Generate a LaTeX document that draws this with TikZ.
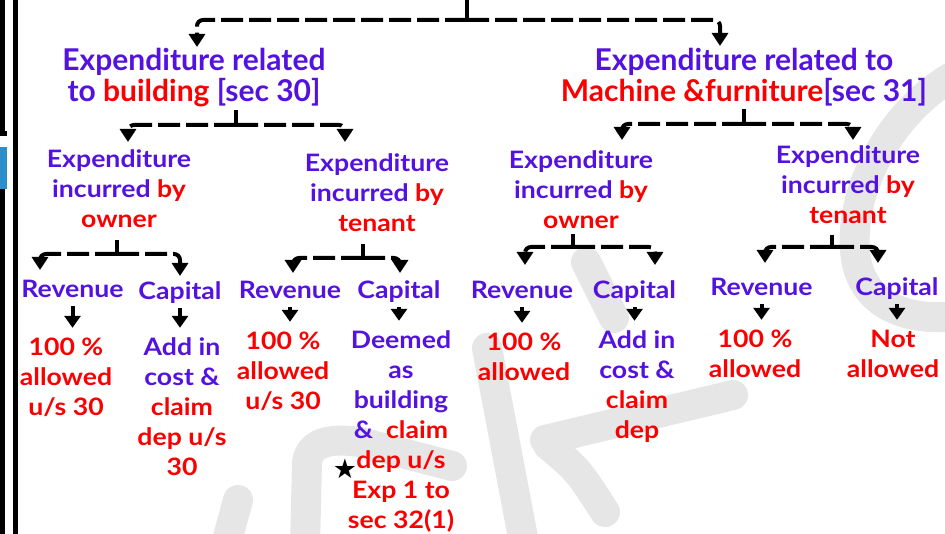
\documentclass[tikz,border=0pt]{standalone}
\usepackage{fontspec}
\setmainfont{Lato}
\newfontfamily\latow{Lato}[FakeStretch=1.11]
\newfontfamily\symfont{DejaVu Sans}
\usetikzlibrary{arrows.meta,calc}
\definecolor{tblue}{RGB}{84,18,224}
\definecolor{tred}{RGB}{250,0,0}
\definecolor{wmgray}{RGB}{230,230,230}
\definecolor{tabblue}{RGB}{42,143,203}
\newcommand{\rd}[1]{\textcolor{tred}{#1}}
\newcommand{\fl}{\rule{0pt}{0.8em}}
\begin{document}
\begin{tikzpicture}[x=1pt,y=-1pt,
 lvA/.style={font=\fontsize{30}{31}\selectfont\bfseries, align=center, inner sep=0pt, anchor=north, yshift=24pt, text=tblue},
 lvB/.style={font=\latow\fontsize{24}{30}\selectfont\bfseries, align=center, inner sep=0pt, anchor=north, yshift=19.2pt, text=tblue},
 lvR/.style={lvB, text=tred},
 stemline/.style={line width=4pt},
 branch/.style={line width=4pt, dash pattern=on 22pt off 6pt, rounded corners=6pt, -{Triangle[width=16pt,length=13pt]}},
 sarrow/.style={line width=4pt, -{Triangle[width=16pt,length=12pt]}},
 wmark/.style={draw=wmgray, line width=30pt, line cap=round, line join=round},
]
\useasboundingbox (0,0) rectangle (945,534);
% watermark
\begin{scope}
\clip (0,0) rectangle (945,534);
\draw[wmark] (225,548) -- (238,500);
\draw[wmark] (305,548) -- (307,462) .. controls (310,442) and (330,438) .. (360,442) -- (452,466);
\draw[wmark] (487,348) -- (525,548);
\draw[wmark] (545,440) -- (733,395);
\draw[wmark] (548,445) .. controls (578,470) .. (605,512);
\draw[wmark] (586,262) -- (614,318);
\draw[wmark] (965,70) .. controls (900,100) and (850,180) .. (855,250) .. controls (858,300) and (900,325) .. (965,315);
\end{scope}
% left border
\fill (0,0) rectangle (4.5,132);
\fill (0,131) rectangle (7,136);
\fill[tabblue] (0,147) rectangle (6.5,189);
\fill (0,189) rectangle (4.5,534);
\fill (13,0) rectangle (18,534);

% level 1
\node[lvA] (bldg) at (194,70) {\fl Expenditure related\\to \rd{building} [sec 30]};
\node[lvA] (mach) at (744,70) {\fl Expenditure related to\\\rd{Machine \&furniture}[sec 31]};
% level 2
\node[lvB] (bown) at (119,167) {\fl Expenditure\\incurred \rd{by}\\\rd{owner}};
\node[lvB] (bten) at (377,171.7) {\fl Expenditure\\incurred \rd{by}\\\rd{tenant}};
\node[lvB] (mown) at (581,168) {\fl Expenditure\\incurred \rd{by}\\\rd{owner}};
\node[lvB] (mten) at (848,163) {\fl Expenditure\\incurred \rd{by}\\\rd{tenant}};
% level 3
\node[lvB] (brevO) at (72.5,297) {\fl Revenue};
\node[lvB] (bcapO) at (180,299) {\fl Capital};
\node[lvB] (brevT) at (290,298) {\fl Revenue};
\node[lvB] (bcapT) at (399,298) {\fl Capital};
\node[lvB] (mrevO) at (522,298) {\fl Revenue};
\node[lvB] (mcapO) at (634.5,298) {\fl Capital};
\node[lvB] (mrevT) at (761.5,295) {\fl Revenue};
\node[lvB] (mcapT) at (897,295) {\fl Capital};
% level 4
\node[lvR] (r1) at (66,355) {\fl 100 \%\\allowed\\u/s 30};
\node[lvB] (c1) at (182,355) {\fl Add in\\cost \&\\\rd{claim}\\\rd{dep u/s}\\\rd{30}};
\node[lvR] (r2) at (283,349) {\fl 100 \%\\allowed\\u/s 30};
\node[lvB] (c2) at (401,348) {\fl Deemed\\as\\building\\\&\ \ \rd{claim}\\\rd{dep u/s}\\\rd{Exp 1 to}\\\rd{sec 32(1)}};
\node[lvR] (r3) at (524,350) {\fl 100 \%\\allowed};
\node[lvB] (c3) at (637,348) {\fl Add in\\cost \&\\\rd{claim}\\\rd{dep}};
\node[lvR] (r4) at (755,347) {\fl 100 \%\\allowed};
\node[lvR] (c4) at (893,347) {\fl Not\\allowed};
\node[font=\symfont\fontsize{27}{27}\selectfont, inner sep=0pt] (star) at (345,469) {★};

% top connector
\coordinate (top) at (467,0);
\coordinate (j0) at (467,20);
\coordinate (t0L) at (197,47);
\coordinate (t0R) at (720,46);
\draw[stemline] (top) -- (j0);
\draw[branch] (j0) -| (t0L);
\draw[branch] (j0) -| (t0R);

% level 1 -> 2
\coordinate (j1) at (236,125);
\coordinate (t1L) at (128,142);
\coordinate (t1R) at (345,142);
\draw[stemline] ($(bldg.south -| j1)+(0,3)$) -- (j1);
\draw[branch] (j1) -| (t1L);
\draw[branch] (j1) -| (t1R);
\coordinate (j2) at (744,124);
\coordinate (t2L) at (622,140);
\coordinate (t2R) at (853,140);
\draw[stemline] ($(mach.south -| j2)+(0,3)$) -- (j2);
\draw[branch] (j2) -| (t2L);
\draw[branch] (j2) -| (t2R);

% level 2 -> 3
\coordinate (jA) at (117,254);
\coordinate (tAL) at (40,270);
\coordinate (tAR) at (180,276);
\draw[stemline] ($(bown.south -| jA)+(0,12)$) -- (jA);
\draw[branch] (jA) -| (tAL);
\draw[branch] (jA) -| (tAR);
\coordinate (jB) at (363,258);
\coordinate (tBL) at (293,273);
\coordinate (tBR) at (400,273);
\draw[stemline] ($(bten.south -| jB)+(0,12)$) -- (jB);
\draw[branch] (jB) -| (tBL);
\draw[branch] (jB) -| (tBR);
\coordinate (jC) at (573,247);
\coordinate (tCL) at (525,265);
\coordinate (tCR) at (655,265);
\draw[stemline] ($(mown.south -| jC)+(0,5)$) -- (jC);
\draw[branch] (jC) -| (tCL);
\draw[branch] (jC) -| (tCR);
\coordinate (jD) at (832,247);
\coordinate (tDL) at (765,263);
\coordinate (tDR) at (878,263);
\draw[stemline] ($(mten.south -| jD)+(0,11)$) -- (jD);
\draw[branch] (jD) -| (tDL);
\draw[branch] (jD) -| (tDR);

% level 3 -> 4
\foreach \lab/\cont in {brevO/r1, bcapO/c1, brevT/r2, bcapT/c2, mrevO/r3, mcapO/c3, mrevT/r4, mcapT/c4}{
  \draw[sarrow] ($(\lab.base)+(0,9)$) -- ($(\lab.base |- \cont.north)+(0,-8)$);
}
\end{tikzpicture}
\end{document}
